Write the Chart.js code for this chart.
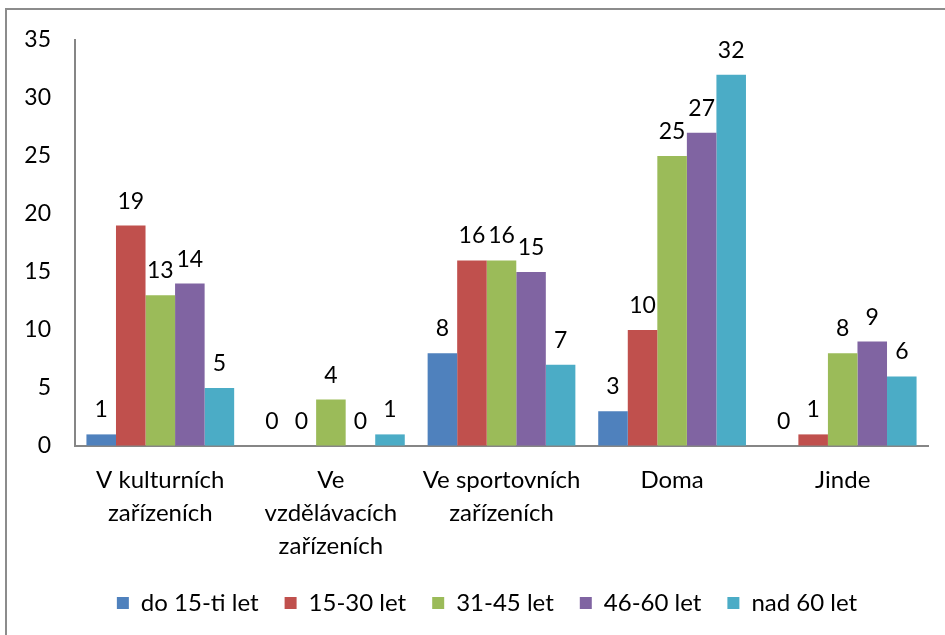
<!DOCTYPE html>
<html>
  <head>
    <meta charset="UTF-8" />
    <title>Místa</title>
    <script src="https://cdn.jsdelivr.net/npm/chart.js"></script>
    <style>
      html,
      body {
        margin: 0;
        padding: 0;
        background: #fff;
        overflow: hidden;
      }

      .frame {
        position: absolute;
        left: 5px;
        top: 8px;
        width: 2000px;
        height: 2000px;
        border-left: 2px solid #8c8c8c;
        border-top: 2px solid #8c8c8c;
      }

      #chart {
        position: absolute;
        left: 0;
        top: 0;
      }
    </style>
  </head>

  <body>
    <div class="frame"></div>
    <canvas id="chart" width="945" height="640"></canvas>

    <script>
      // categories and series
      const categories = [
        ["V kulturních", "zařízeních"],
        ["Ve", "vzdělávacích", "zařízeních"],
        ["Ve sportovních", "zařízeních"],
        "Doma",
        "Jinde",
      ];
      const seriesNames = ["do 15-ti let", "15-30 let", "31-45 let", "46-60 let", "nad 60 let"];
      const seriesColors = ["#4F81BD", "#C0504D", "#9BBB59", "#8064A2", "#4BACC6"];

      const do15 = [1, 0, 8, 3, 0];
      const od15do30 = [19, 0, 16, 10, 1];
      const od31do45 = [13, 4, 16, 25, 8];
      const od46do60 = [14, 0, 15, 27, 9];
      const nad60 = [5, 1, 7, 32, 6];
      const seriesValues = [do15, od15do30, od31do45, od46do60, nad60];

      const yTicks = [0, 5, 10, 15, 20, 25, 30, 35];

      const FONT = "Lato";

      // value labels above the bars
      const valueLabels = {
        id: "valueLabels",
        afterDatasetsDraw(chart) {
          const ctx = chart.ctx;
          ctx.save();
          ctx.font = "23px " + FONT;
          ctx.fillStyle = "#000";
          ctx.textAlign = "center";
          ctx.textBaseline = "alphabetic";
          chart.data.datasets.forEach((ds, i) => {
            const meta = chart.getDatasetMeta(i);
            meta.data.forEach((bar, j) => {
              ctx.fillText(String(ds.data[j]), bar.x, bar.y - 17);
            });
          });
          ctx.restore();
        },
      };

      // nudge the legend a bit to the right, as in the original
      const legendShift = {
        id: "legendShift",
        afterLayout(chart) {
          const lg = chart.legend;
          const plotMid = (chart.chartArea.left + chart.chartArea.right) / 2;
          const target = (plotMid + chart.width / 2) / 2;
          const dx = target - (lg.left + lg.right) / 2;
          lg.left += dx;
          lg.right += dx;
        },
      };

      const ctx = document.getElementById("chart").getContext("2d");
      // no "ti" ligature
      ctx.letterSpacing = "0.2px";

      new Chart(ctx, {
        type: "bar",
        data: {
          labels: categories,
          datasets: seriesNames.map((name, i) => ({
            label: name,
            data: seriesValues[i],
            backgroundColor: seriesColors[i],
            borderWidth: 0,
            categoryPercentage: 0.866,
            barPercentage: 1,
          })),
        },
        plugins: [valueLabels, legendShift],
        options: {
          responsive: false,
          animation: false,
          devicePixelRatio: 1,
          layout: {
            padding: { top: 40, right: 17, bottom: 15, left: 0 },
          },
          plugins: {
            tooltip: { enabled: false },
            legend: {
              position: "bottom",
              labels: {
                color: "#000",
                font: { family: FONT, size: 24 },
                boxWidth: 12,
                boxHeight: 12,
                padding: 26,
              },
            },
          },
          scales: {
            x: {
              grid: { display: true, color: "transparent", drawTicks: false },
              border: { display: true, color: "#868686", width: 2 },
              ticks: {
                color: "#000",
                font: { family: FONT, size: 24, lineHeight: 1.375 },
                padding: 18,
                maxRotation: 0,
                autoSkip: false,
              },
              afterFit(scale) {
                scale.height = 119;
              },
            },
            y: {
              min: 0,
              max: 35,
              afterBuildTicks(scale) {
                scale.ticks = yTicks.map((v) => ({ value: v }));
              },
              grid: { display: true, color: "transparent", drawTicks: false },
              border: { display: true, color: "#868686", width: 2 },
              ticks: {
                color: "#000",
                font: { family: FONT, size: 23 },
                padding: 24,
              },
              afterFit(scale) {
                scale.width = 75;
              },
            },
          },
        },
      });
    </script>
  </body>
</html>
